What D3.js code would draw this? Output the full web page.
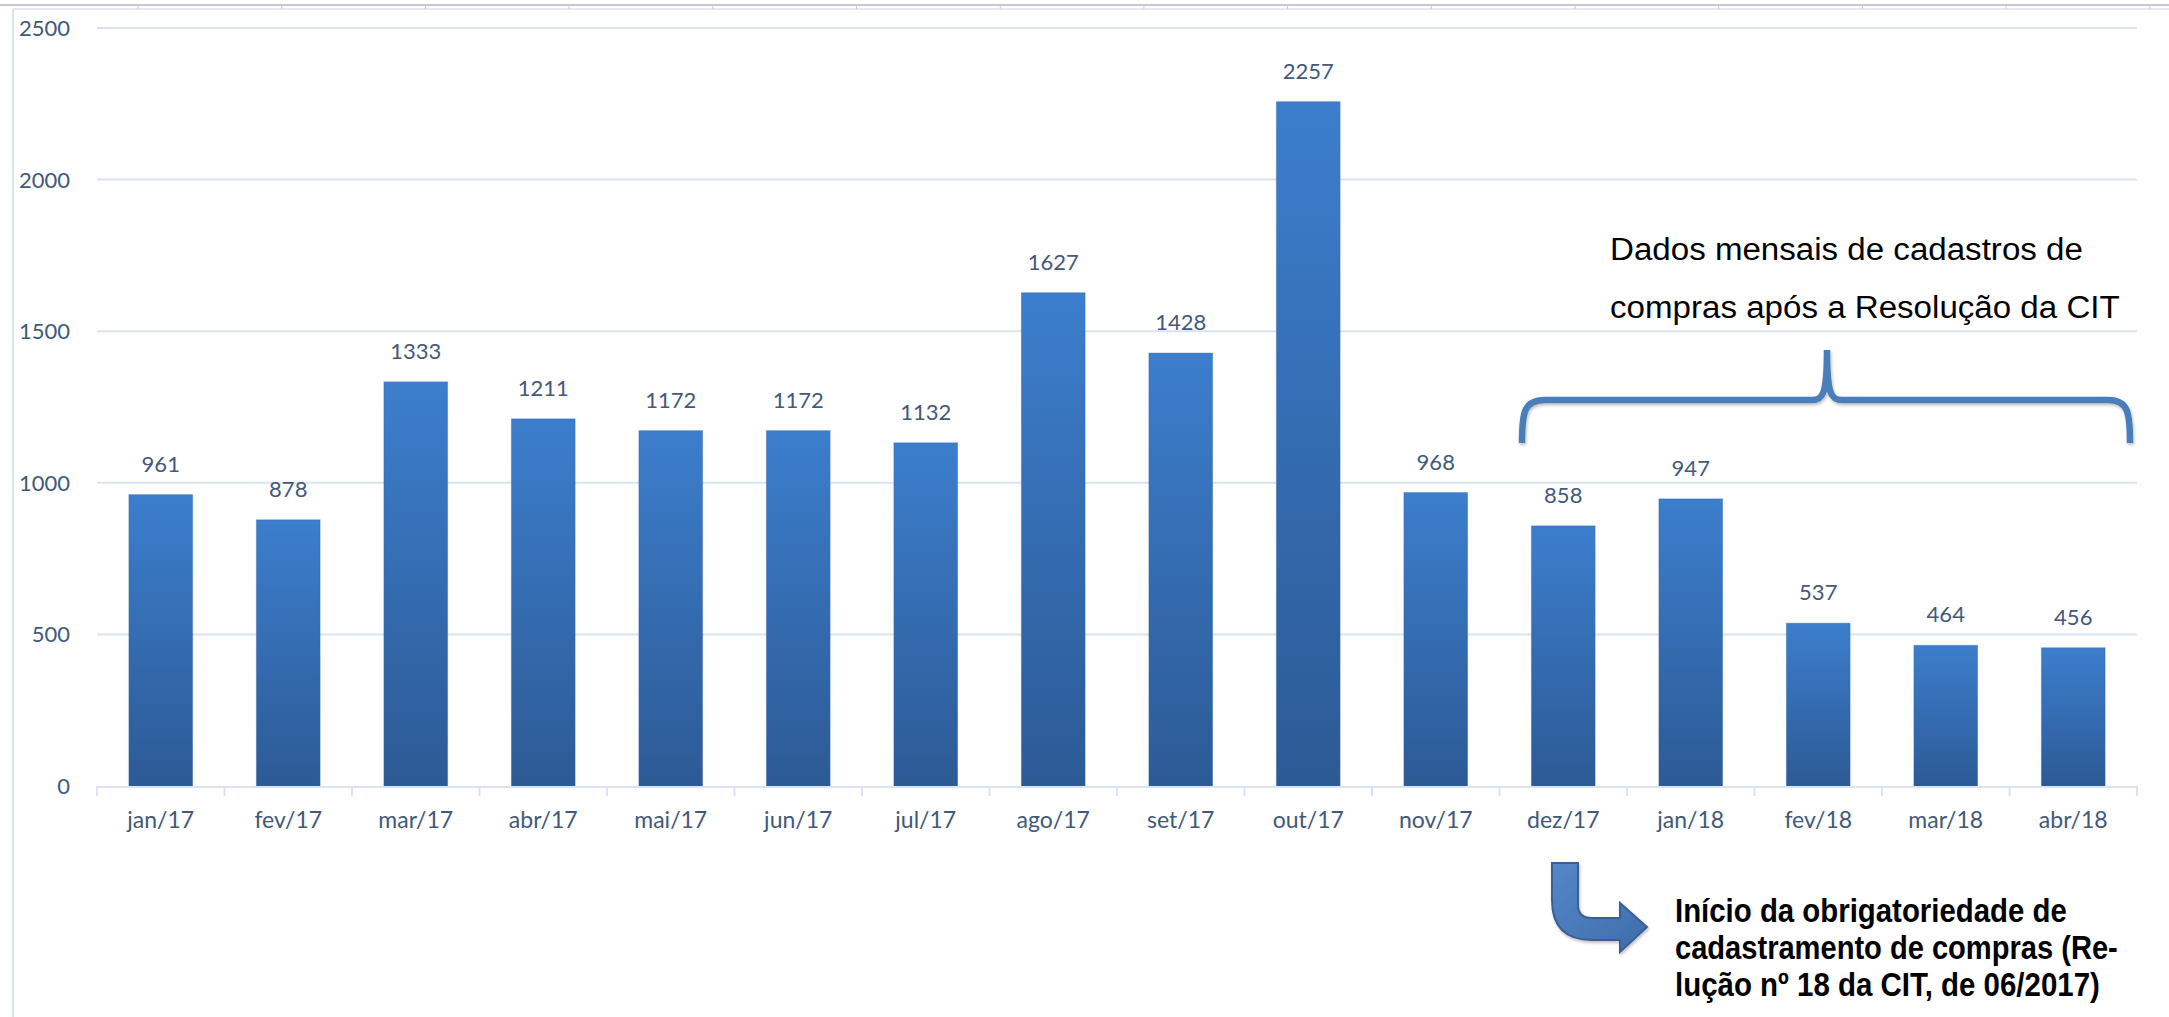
<!DOCTYPE html>
<html>
<head>
<meta charset="utf-8">
<script src="https://cdn.jsdelivr.net/npm/d3@7"></script>
<style>
  html, body { margin: 0; padding: 0; background: #fff; }
  svg { display: block; }
</style>
</head>
<body>
<div id="chart"></div>
<script>
// monthly purchase registrations
const months = ['jan/17', 'fev/17', 'mar/17', 'abr/17', 'mai/17', 'jun/17', 'jul/17', 'ago/17',
  'set/17', 'out/17', 'nov/17', 'dez/17', 'jan/18', 'fev/18', 'mar/18', 'abr/18'];
const values = [961, 878, 1333, 1211, 1172, 1172, 1132, 1627, 1428, 2257, 968, 858, 947, 537, 464, 456];
const yTicks = [0, 500, 1000, 1500, 2000, 2500];

const bracketLines = ['Dados mensais de cadastros de', 'compras após a Resolução da CIT'];
const noteLines = ['Início  da obrigatoriedade de', 'cadastramento  de compras (Re-', 'lução  nº 18 da CIT, de 06/2017)'];

const W = 2169, H = 1017;
const LABEL = '#41597a';
const GRID = '#d9e3f1';
const FONT = 'Lato, "Open Sans", sans-serif';
const NARROW = '"Liberation Sans Narrow", "Liberation Sans", sans-serif';

const svg = d3.select('#chart').append('svg')
  .attr('width', W).attr('height', H);

const defs = svg.append('defs');
const grad = defs.append('linearGradient').attr('id', 'barGrad')
  .attr('x1', 0).attr('y1', 0).attr('x2', 0).attr('y2', 1);
grad.append('stop').attr('offset', '0%').attr('stop-color', '#3c7ecd');
grad.append('stop').attr('offset', '100%').attr('stop-color', '#2c5a95');

const aGrad = defs.append('linearGradient').attr('id', 'arrowGrad')
  .attr('x1', 0).attr('y1', 0).attr('x2', 1).attr('y2', 1);
aGrad.append('stop').attr('offset', '0%').attr('stop-color', '#5587c6');
aGrad.append('stop').attr('offset', '100%').attr('stop-color', '#3d6cab');

const shadow = defs.append('filter').attr('id', 'shadow')
  .attr('x', '-10%').attr('y', '-10%').attr('width', '120%').attr('height', '130%');
shadow.append('feDropShadow').attr('dx', 1).attr('dy', 2).attr('stdDeviation', 1.5)
  .attr('flood-color', '#000').attr('flood-opacity', 0.25);

// spreadsheet frame artifacts
svg.append('line').attr('x1', 0).attr('x2', W).attr('y1', 5).attr('y2', 5)
  .attr('stroke', '#c9c9c9').attr('stroke-width', 2);
svg.append('line').attr('x1', 13).attr('x2', W).attr('y1', 9).attr('y2', 9)
  .attr('stroke', '#e3eaf4').attr('stroke-width', 2);
svg.append('g').selectAll('line')
  .data(d3.range(138, W, 143.7)).join('line')
  .attr('x1', d => d).attr('x2', d => d).attr('y1', 5).attr('y2', 9)
  .attr('stroke', '#c9c9c9');
svg.append('line').attr('x1', 13).attr('x2', 13).attr('y1', 9).attr('y2', H)
  .attr('stroke', '#d8e2f1').attr('stroke-width', 2);

const x = d3.scaleBand().domain(months).range([97, 2137])
  .paddingInner(0.5).paddingOuter(0.25);
const y = d3.scaleLinear().domain([0, 2500]).range([786, 28]);

// gridlines
svg.append('g').selectAll('line')
  .data(yTicks.filter(d => d > 0)).join('line')
  .attr('x1', 97).attr('x2', 2137)
  .attr('y1', d => y(d)).attr('y2', d => y(d))
  .attr('stroke', GRID).attr('stroke-width', 2);

// y labels
svg.append('g').selectAll('text')
  .data(yTicks).join('text')
  .attr('x', 70).attr('y', d => y(d)).attr('dy', '0.36em')
  .attr('text-anchor', 'end')
  .attr('font-family', FONT).attr('font-size', 22).attr('fill', LABEL)
  .text(d => d);

// bars
svg.append('g').selectAll('rect')
  .data(months).join('rect')
  .attr('x', d => x(d)).attr('width', x.bandwidth())
  .attr('y', (d, i) => y(values[i]))
  .attr('height', (d, i) => y(0) - y(values[i]))
  .attr('fill', 'url(#barGrad)')
  .attr('stroke', '#2f64a6').attr('stroke-opacity', 0.35);

// value labels
svg.append('g').selectAll('text')
  .data(months).join('text')
  .attr('x', d => x(d) + x.bandwidth() / 2)
  .attr('y', (d, i) => y(values[i]) - 23)
  .attr('text-anchor', 'middle')
  .attr('font-family', FONT).attr('font-size', 22).attr('fill', LABEL)
  .text((d, i) => values[i]);

// x axis baseline + tick marks between categories
const step = x.step();
const axis = svg.append('g');
axis.append('line').attr('x1', 97).attr('x2', 2137).attr('y1', y(0) + 1).attr('y2', y(0) + 1)
  .attr('stroke', GRID).attr('stroke-width', 2);
axis.selectAll('line.tick')
  .data(d3.range(months.length + 1)).join('line').attr('class', 'tick')
  .attr('x1', i => 97 + i * step).attr('x2', i => 97 + i * step)
  .attr('y1', y(0)).attr('y2', y(0) + 10)
  .attr('stroke', GRID).attr('stroke-width', 2);
axis.selectAll('text')
  .data(months).join('text')
  .attr('x', d => x(d) + x.bandwidth() / 2)
  .attr('y', 828)
  .attr('text-anchor', 'middle')
  .attr('font-family', FONT).attr('font-size', 23).attr('fill', LABEL)
  .text(d => d);

// text block squeezed horizontally to a target width per line
function condensedLines(lines, widths, x0, y0, lh, size, weight) {
  lines.forEach((line, i) => {
    const g = svg.append('g');
    const t = g.append('text')
      .attr('x', 0).attr('y', 0)
      .attr('font-family', NARROW).attr('font-weight', weight)
      .attr('font-size', size).attr('fill', '#000')
      .text(line);
    const natural = t.node().getComputedTextLength();
    g.attr('transform', `translate(${x0},${y0 + i * lh}) scale(${widths[i] / natural},1)`);
  });
}

// bracket annotation
svg.append('path')
  .attr('d', 'M1522,443 C1522,412 1524,400 1545,400 L1812,400 C1823,400 1827,394 1827,350 ' +
    'C1827,394 1831,400 1842,400 L2108,400 C2128,400 2130,412 2130,443')
  .attr('fill', 'none').attr('stroke', '#4a7ebb').attr('stroke-width', 6.5)
  .attr('filter', 'url(#shadow)');

condensedLines(bracketLines, [473, 510], 1610, 260, 58, 31, 'normal');

// curved arrow
svg.append('path')
  .attr('d', 'M1552,863 L1578,863 L1578,905 Q1578,918 1592,918 L1620,918 L1620,903 L1647,927 ' +
    'L1620,952 L1620,940 L1592,940 Q1552,940 1552,900 Z')
  .attr('fill', 'url(#arrowGrad)').attr('stroke', '#3a5f95').attr('stroke-width', 2)
  .attr('filter', 'url(#shadow)');

condensedLines(noteLines, [392, 443, 425], 1675, 922, 37, 34, 'bold');
</script>
</body>
</html>
